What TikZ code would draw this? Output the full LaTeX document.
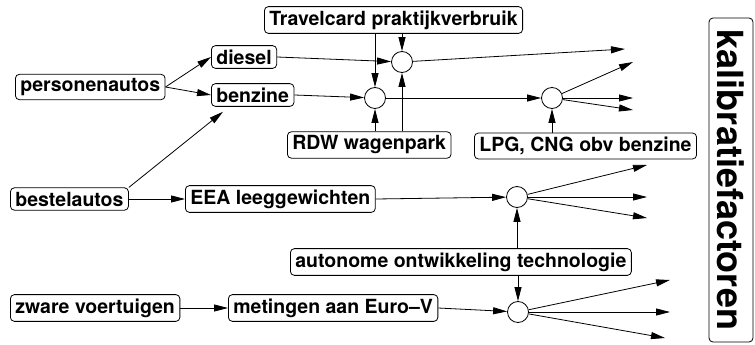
\documentclass[tikz,border=0pt]{standalone}
\usepackage{fontspec}
\setmainfont{TeX Gyre Heros}
\usetikzlibrary{arrows.meta}
\tikzset{
  blok/.style={draw, rounded corners=4pt, line width=0.8pt, inner xsep=5pt, inner ysep=4pt, anchor=west, font=\fontsize{19.5}{22}\selectfont\bfseries},
  knoop/.style={draw, circle, line width=0.8pt, minimum size=21pt, inner sep=0pt},
  pijl/.style={line width=0.8pt, -{Triangle[length=14pt,width=7pt]}},
}
\begin{document}
\begin{tikzpicture}[x=1pt,y=-1pt]
    \useasboundingbox (0,0) rectangle (755,345);
    % Boxes
    \node[blok] (travel) at (264,20) {Travelcard praktijkverbruik};
    \node[blok] (diesel) at (211,57) {diesel};
    \node[blok] (benzine) at (211,95) {benzine};
    \node[blok] (perso) at (15,87) {personenautos};
    \node[blok] (rdw) at (287,145) {RDW wagenpark};
    \node[blok] (lpg) at (474,146) {LPG, CNG obv benzine};
    \node[blok] (bestel) at (10,199) {bestelautos};
    \node[blok] (eea) at (185,199) {EEA leeggewichten};
    \node[blok] (auto) at (290,262) {autonome ontwikkeling technologie};
    \node[blok] (zwaar) at (10,308) {zware voertuigen};
    \node[blok] (meting) at (228,308) {metingen aan Euro--V};
    \node[draw, rounded corners=4pt, line width=0.8pt, rotate=-90, inner sep=0pt,
          minimum width=324pt, minimum height=44pt,
          font=\fontsize{36}{40}\selectfont\bfseries] (kalib) at (731,180) {kalibratiefactoren};
    % Circles
    \node[knoop] (c1) at (402,62) {};
    \node[knoop] (c2) at (375,98) {};
    \node[knoop] (c3) at (552,98) {};
    \node[knoop] (c4) at (517,197) {};
    \node[knoop] (c5) at (518,312) {};
    % Loose ends
    \coordinate (o11) at (625,49);
    \coordinate (o31) at (633,62);
    \coordinate (o32) at (633,98);
    \coordinate (o33) at (633,110);
    \coordinate (o41) at (647,165);
    \coordinate (o42) at (647,197);
    \coordinate (o43) at (647,218);
    \coordinate (o51) at (670,280);
    \coordinate (o52) at (670,312);
    \coordinate (o53) at (665,338);
    % Personenautos
    \draw[pijl] (perso.east) -- (diesel.west);
    \draw[pijl] (perso.east) -- (benzine.west);
    \draw[pijl] (diesel.east) -- (c1);
    \draw[pijl] (benzine.east) -- (c2);
    \draw[pijl] (travel.south -| c1) -- (c1);
    \draw[pijl] (travel.south -| c2) -- (c2);
    \draw[pijl] (rdw.north -| c1) -- (c1);
    \draw[pijl] (rdw.north -| c2) -- (c2);
    \draw[pijl] (c1) -- (o11);
    \draw[pijl] (c2) -- (c3);
    \draw[pijl] (lpg.north -| c3) -- (c3);
    \draw[pijl] (c3) -- (o31);
    \draw[pijl] (c3) -- (o32);
    \draw[pijl] (c3) -- (o33);
    % Bestelautos
    \draw[pijl] (bestel.north east) -- ([xshift=12pt,yshift=-5pt]benzine.south west);
    \draw[pijl] (bestel.east) -- (eea.west);
    \draw[pijl] (eea.east) -- (c4);
    \draw[pijl] (auto.north -| c4) -- (c4);
    \draw[pijl] (c4) -- (o41);
    \draw[pijl] (c4) -- (o42);
    \draw[pijl] (c4) -- (o43);
    % Zware voertuigen
    \draw[pijl] (zwaar.east) -- (meting.west);
    \draw[pijl] (meting.east) -- (c5);
    \draw[pijl] (auto.south -| c5) -- (c5);
    \draw[pijl] (c5) -- (o51);
    \draw[pijl] (c5) -- (o52);
    \draw[pijl] (c5) -- (o53);
\end{tikzpicture}
\end{document}
